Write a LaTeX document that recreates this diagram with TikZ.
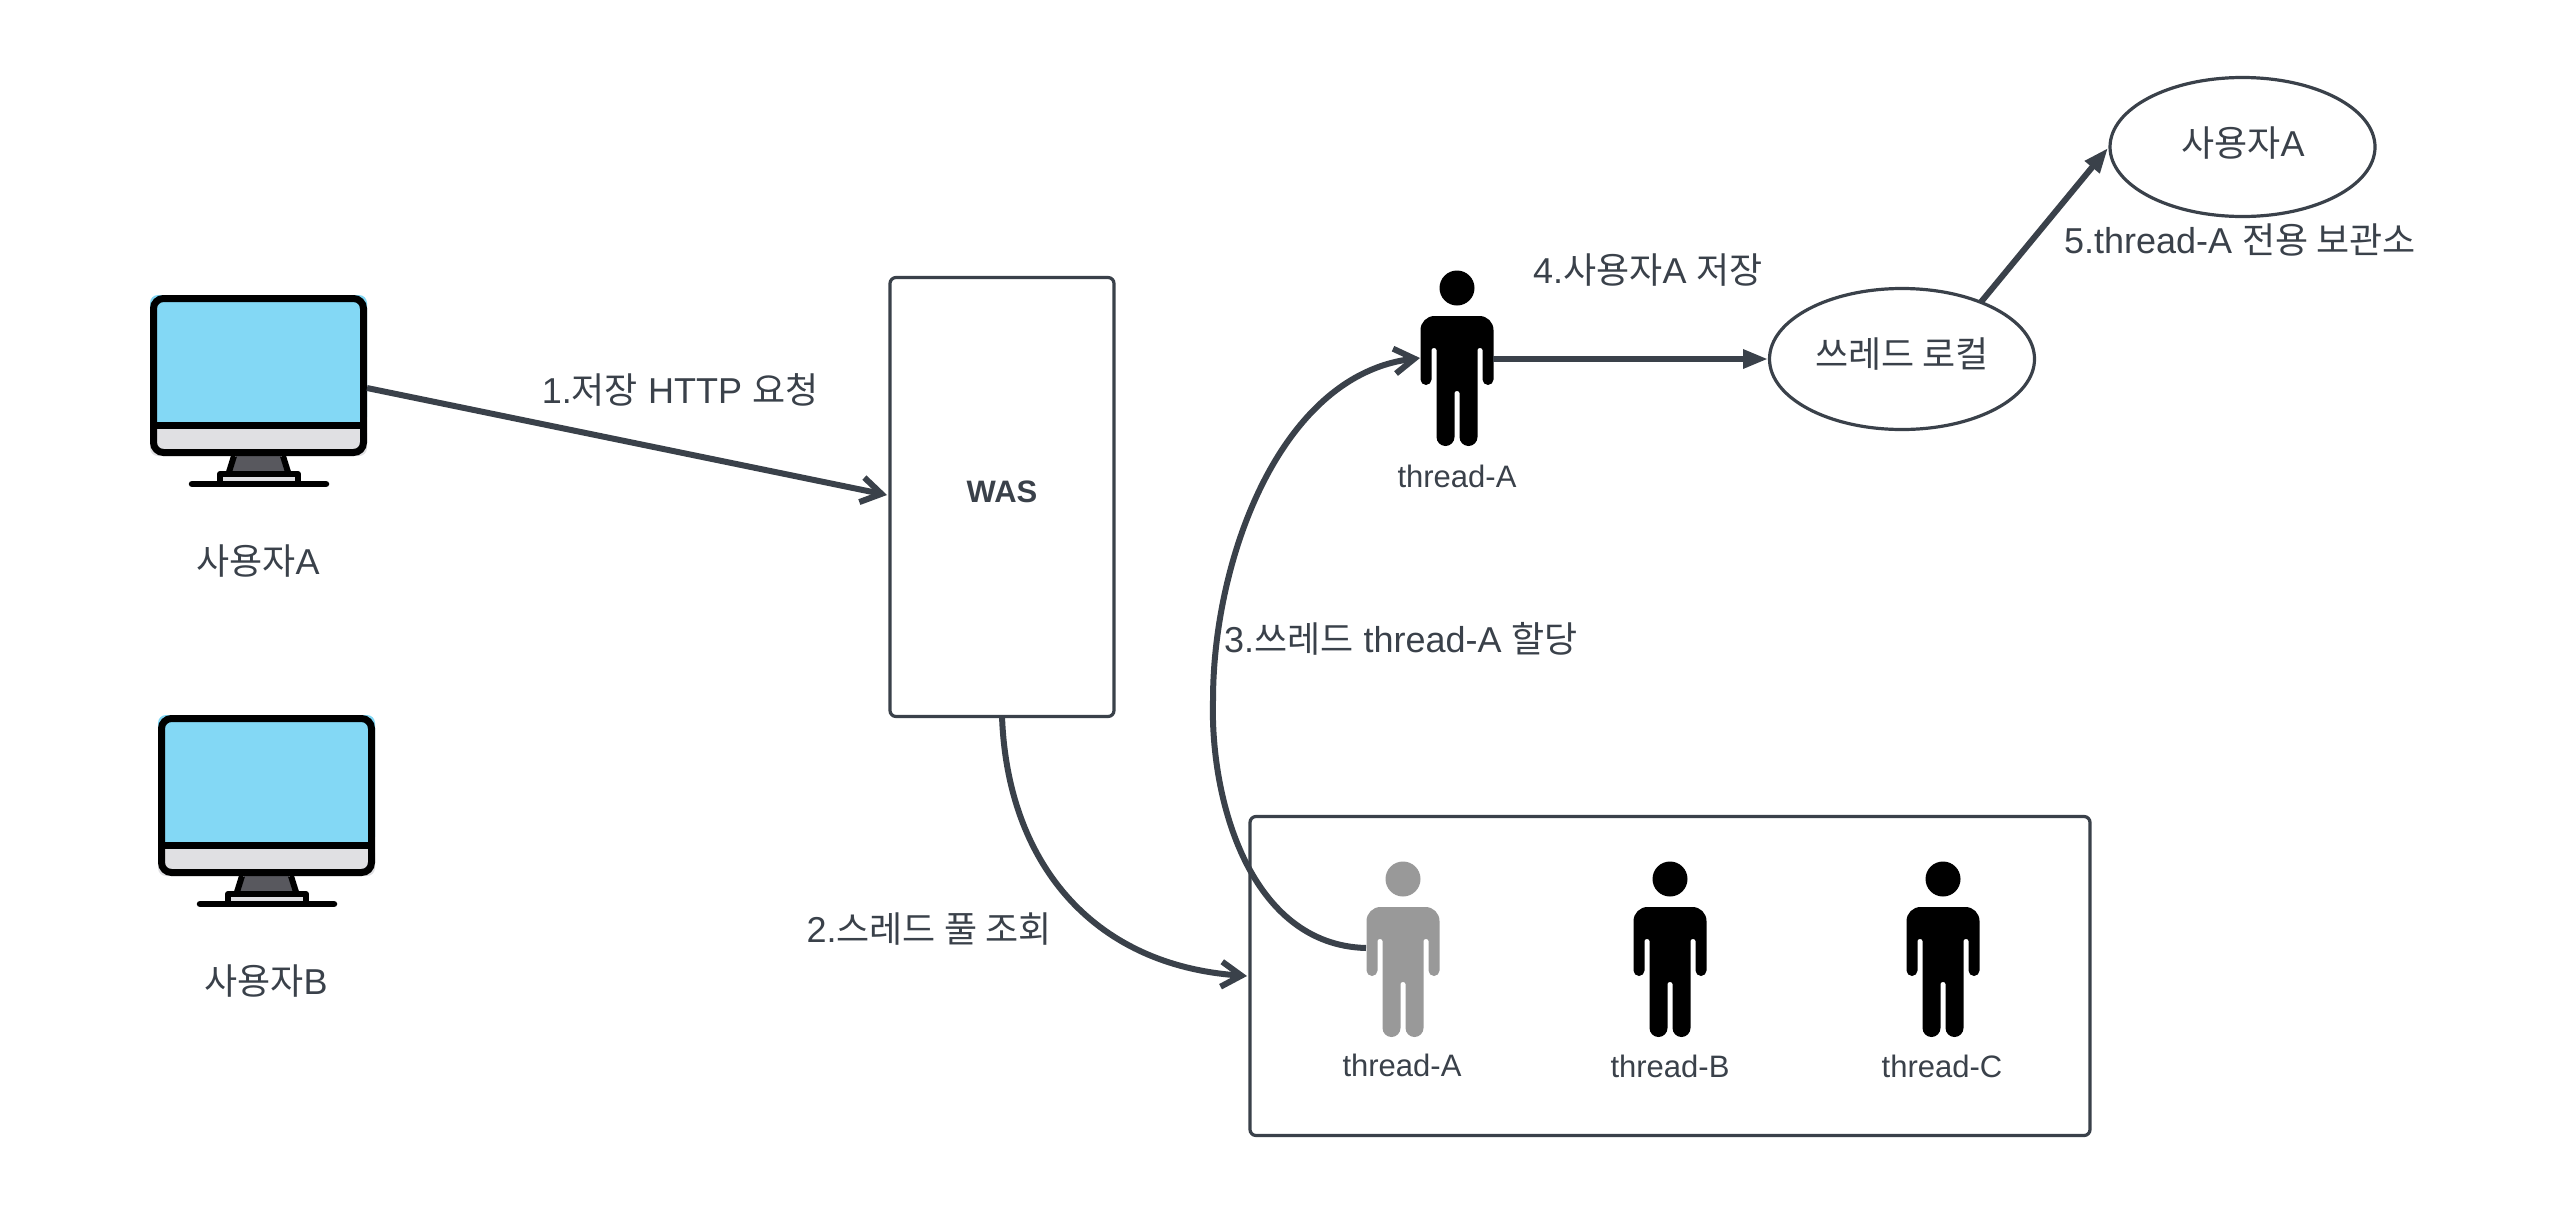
\documentclass[tikz,border=0pt]{standalone}
\usepackage{fontspec}
\setmainfont{Liberation Sans}
\newfontfamily\kr{Noto Sans CJK KR}
\usetikzlibrary{arrows.meta,shapes.geometric}
\definecolor{ink}{HTML}{3A414A}
\definecolor{screen}{HTML}{83D8F5}
\definecolor{chin}{HTML}{E0E0E3}
\definecolor{stand}{HTML}{58585E}
\newcommand{\K}[1]{{\kr #1}}
\tikzset{
  x=1pt,y=-1pt,
  lbl/.style={text=ink,inner sep=0pt,font=\fontsize{36}{42}\selectfont},
  small/.style={text=ink,inner sep=0pt,font=\fontsize{31}{36}\selectfont},
  box/.style={draw=ink,line width=3.2pt,rounded corners=6pt,fill=white},
  oval/.style={draw=ink,line width=3.2pt,ellipse,inner sep=0pt,fill=white},
  conn/.style={draw=ink,line width=6pt},
  open/.style={-{Straight Barb[length=20pt,width=25pt,line width=6pt]}},
  solid tip/.style={-{Triangle[length=25pt,width=18pt]}},
  monitor/.pic={
    \fill[screen,rounded corners=8pt] (0,0) rectangle (217,130);
    \fill[chin,rounded corners=8pt] (0,130) rectangle (217,161);
    \fill[screen] (4,120) rectangle (213,130);
    \fill[stand] (86,161) -- (131,161) -- (136,177) -- (81,177) -- cycle;
    \fill[chin] (70,180) rectangle (148,189);
    \draw[black,line width=7pt,rounded corners=10pt] (3.5,3.5) rectangle (213.5,157.5);
    \draw[black,line width=7pt] (3.5,130) -- (213.5,130);
    \draw[black,line width=6pt] (84,161) -- (79,177) (133,161) -- (138,177);
    \draw[black,line width=6pt,line join=round] (70,189) -- (70,179) -- (148,179) -- (148,189);
    \draw[black,line width=6.5pt,line cap=round] (42,189) -- (176,189);
    \coordinate (-out) at (217,93);
  },
  person pic/.pic={
    \fill[pic actions] (0,0) circle[radius=17.5];
    \fill[pic actions] (0,28) [rounded corners=14pt] -- (36.5,28) [rounded corners=5.5pt] -- (36.5,97) -- (25.5,97) [rounded corners=2pt] -- (25.5,60) -- (20.5,60) [rounded corners=9pt] -- (20.5,158) -- (2.5,158) [rounded corners=2pt] -- (2.5,103) -- (-2.5,103) [rounded corners=9pt] -- (-2.5,158) -- (-20.5,158) [rounded corners=2pt] -- (-20.5,60) -- (-25.5,60) [rounded corners=5.5pt] -- (-25.5,97) -- (-36.5,97) [rounded corners=14pt] -- (-36.5,28) [sharp corners] -- cycle;
    \coordinate (-w) at (-37,69);
    \coordinate (-e) at (36,71);
  },
}
\begin{document}
\begin{tikzpicture}
\useasboundingbox (0,0) rectangle (2569,1213);
\path pic (m1) at (150,295) {monitor};
\path pic (m2) at (158,715) {monitor};
\node[lbl] (u1) at (258,561) {\K{사용자}A};
\node[lbl] (u2) at (266,981) {\K{사용자}B};
\node[box,minimum width=224pt,minimum height=439pt] (was) at (1002,497) {};
\node[text=ink,inner sep=0pt,font=\fontsize{31}{36}\selectfont\bfseries] (wast) at (1002,492) {WAS};
\node[box,minimum width=840pt,minimum height=319pt] (pool) at (1670,976) {};
\path[fill=black] pic (pa) at (1457,288) {person pic};
\node[small] (ta) at (1457,476) {thread-A};
\path[fill=black!40] pic (p1) at (1403,879) {person pic};
\path[fill=black] pic (p2) at (1670,879) {person pic};
\path[fill=black] pic (p3) at (1943,879) {person pic};
\node[small] (t1) at (1402,1065) {thread-A};
\node[small] (t2) at (1670,1066) {thread-B};
\node[small] (t3) at (1942,1066) {thread-C};
\node[oval,minimum width=265pt,minimum height=141pt] (tl) at (1902,359) {};
\node[lbl] (tlt) at (1902,354) {\K{쓰레드 로컬}};
\node[oval,minimum width=265pt,minimum height=139pt] (ua) at (2242.5,147) {};
\node[lbl] (uat) at (2243,143) {\K{사용자}A};
\node[lbl] (l1) at (680,390) {1.\K{저장} HTTP \K{요청}};
\node[lbl] (l2) at (929,929) {2.\K{스레드 풀 조회}};
\node[lbl] (l3) at (1401,639) {3.\K{쓰레드} thread-A \K{할당}};
\node[lbl] (l4) at (1648,270) {4.\K{사용자}A \K{저장}};
\node[lbl] (l5) at (2240,240) {5.thread-A \K{전용 보관소}};
\coordinate (wasin) at (887,495);
\coordinate (poolin) at (1247,976);
\coordinate (wasout) at (1002,716);
\coordinate (tlin) at (1768,359);
\coordinate (tlout) at (1981,302);
\coordinate (uain) at (2108,148);
\coordinate (mid3) at (1213,700);
\coordinate (atop) at (1420,358);
\draw[conn,open] (m1-out) -- (wasin);
\draw[conn,open] (wasout) .. controls (1007,860) and (1090,965) .. (poolin);
\draw[conn,open] (p1-w) .. controls (1250,945) and (1210,800) .. (mid3) .. controls (1213,560) and (1280,375) .. (atop);
\draw[conn,solid tip] (pa-e) -- (tlin);
\draw[conn,solid tip] (tlout) -- (uain);
\end{tikzpicture}
\end{document}
